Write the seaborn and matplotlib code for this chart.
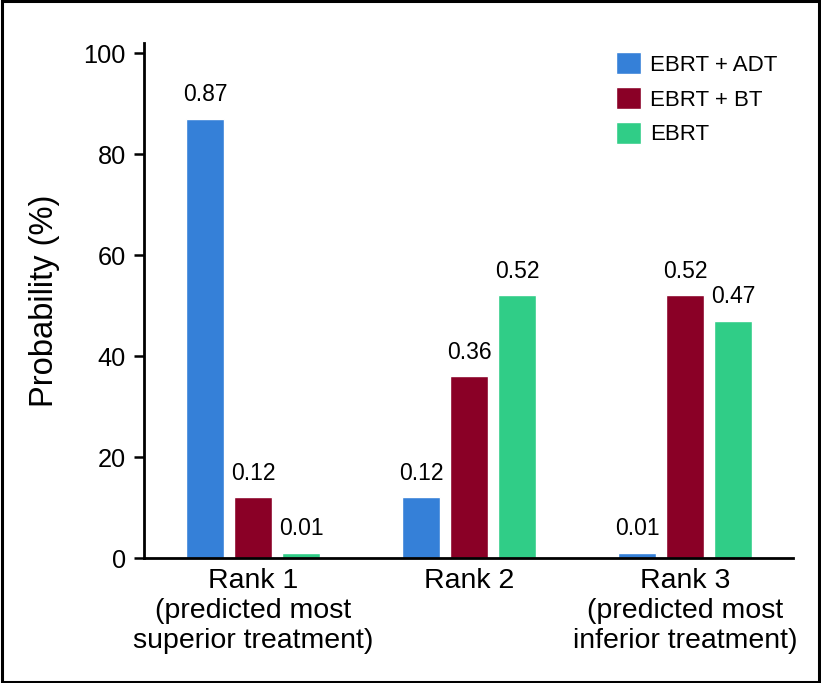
import matplotlib
matplotlib.use("Agg")
import matplotlib.pyplot as plt
import seaborn as sns
import pandas as pd
from matplotlib.patches import Rectangle

ranks = ["Rank 1\n(predicted most\nsuperior treatment)", "Rank 2",
         "Rank 3\n(predicted most\ninferior treatment)"]
treatments = ["EBRT + ADT", "EBRT + BT", "EBRT"]
adt = [87, 12, 1]
bt = [12, 36, 52]
ebrt = [1, 52, 47]
adt_labels = ["0.87", "0.12", "0.01"]
bt_labels = ["0.12", "0.36", "0.52"]
ebrt_labels = ["0.01", "0.52", "0.47"]
colors = ["#3580D8", "#8A0026", "#30CD87"]

rows = []
for t, vals in zip(treatments, [adt, bt, ebrt]):
    for r, v in zip(ranks, vals):
        rows.append({"rank": r, "treatment": t, "value": v})
df = pd.DataFrame(rows)

sns.set_theme(style="ticks")
plt.rcParams["font.family"] = ["Liberation Sans", "DejaVu Sans"]
plt.rcParams["text.color"] = "black"
plt.rcParams["axes.labelcolor"] = "black"
plt.rcParams["xtick.color"] = "black"
plt.rcParams["ytick.color"] = "black"
plt.rcParams["axes.edgecolor"] = "black"

fig = plt.figure(figsize=(8.21, 6.83), dpi=100)
ax = fig.add_axes([0.1754, 0.183, 0.9659 - 0.1754, 0.937 - 0.183])
sns.barplot(data=df, x="rank", y="value", hue="treatment", order=ranks,
            hue_order=treatments, palette=colors, width=0.667, gap=0.21,
            saturation=1, ax=ax, errorbar=None)

for cont, labs in zip(ax.containers, [adt_labels, bt_labels, ebrt_labels]):
    ax.bar_label(cont, labels=labs, padding=9, fontsize=16.5, color="black")

ax.set_xlim(-0.505, 2.5)
ax.set_ylim(0, 102)
ax.set_yticks([0, 20, 40, 60, 80, 100])
ax.tick_params(axis="y", length=7, width=1.8, labelsize=18.3, pad=6)
ax.tick_params(axis="x", length=0, labelsize=20.5, pad=7)
for lab in ax.get_xticklabels():
    lab.set_linespacing(1.2)
ax.set_xlabel("")
ax.set_ylabel("Probability (%)", fontsize=23.5, labelpad=17)
sns.despine(ax=ax)
for s in ["left", "bottom"]:
    ax.spines[s].set_linewidth(2.0)

leg = ax.legend(loc="upper right", bbox_to_anchor=(1.0, 1.012), frameon=False,
                fontsize=16, handlelength=1.15, handleheight=1.15,
                handletextpad=0.4, labelspacing=0.5, borderaxespad=0.3)

fig.patches.append(Rectangle((0.002, 0.002), 0.996, 0.996, transform=fig.transFigure,
                             fill=False, edgecolor="black", linewidth=2.2))
fig.savefig("out.png", dpi=100)
